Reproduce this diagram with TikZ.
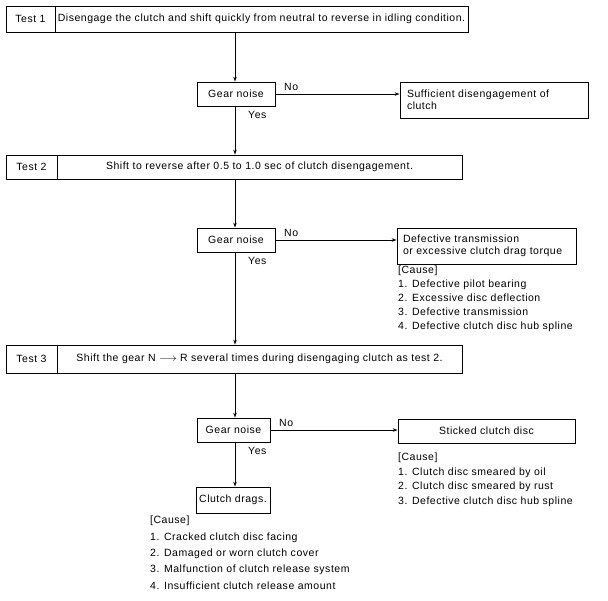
\documentclass[tikz,border=0pt]{standalone}
\usepackage{fontspec}
\setmainfont[LetterSpace=5]{Liberation Sans}
\usetikzlibrary{arrows.meta}
\begin{document}
\begin{tikzpicture}[x=1pt,y=-1pt,
  box/.style={draw, line width=0.8pt, inner sep=0pt, font=\fontsize{10.5}{12}\selectfont},
  lbl/.style={font=\fontsize{10.5}{12}\selectfont, inner sep=0pt},
  conn/.style={line width=0.8pt},
  arr/.style={line width=0.8pt, -{Stealth[length=5pt,width=3.5pt]}},
  causes/.style={align=left, inner sep=0pt, anchor=north west}]
\useasboundingbox (0,0) rectangle (608,600);
% Test 1
\node[box, minimum width=49pt, minimum height=26pt] (t1lab) at (30.5,19) {Test 1};
\node[box, minimum width=413pt, minimum height=26pt] (t1txt) at (261.5,19) {Disengage the clutch and shift quickly from neutral to reverse in idling condition.};
\node[box, minimum width=78pt, minimum height=24pt] (g1) at (236,94) {Gear noise};
\node[box, minimum width=188pt, minimum height=36pt, text width=174pt, align=left] (s1) at (494,100) {Sufficient disengagement of\\clutch};
\node[lbl, anchor=south west] (no1) at (284,91) {No};
\node[lbl, anchor=north west] (yes1) at (248,111) {Yes};
% Test 2
\node[box, minimum width=51pt, minimum height=24pt] (t2lab) at (31.5,167) {Test 2};
\node[box, minimum width=405pt, minimum height=24pt] (t2txt) at (259.5,167) {Shift to reverse after 0.5 to 1.0 sec of clutch disengagement.};
\node[box, minimum width=78pt, minimum height=24pt] (g2) at (236,240) {Gear noise};
\node[box, minimum width=179pt, minimum height=36pt, text width=167pt, align=left] (d2) at (486.5,246) {Defective transmission\\or excessive clutch drag torque};
\node[lbl, anchor=south west] (no2) at (284,237) {No};
\node[lbl, anchor=north west] (yes2) at (248,257) {Yes};
\node[causes, font=\fontsize{10.5}{14}\selectfont] (c2) at (398,266) {[Cause]\\1. Defective pilot bearing\\2. Excessive disc deflection\\3. Defective transmission\\4. Defective clutch disc hub spline};
% Test 3
\node[box, minimum width=51pt, minimum height=28pt] (t3lab) at (31.5,359) {Test 3};
\node[box, minimum width=405pt, minimum height=28pt] (t3txt) at (259.5,359) {Shift the gear N $\longrightarrow$ R several times during disengaging clutch as test 2.};
\node[box, minimum width=73pt, minimum height=24pt] (g3) at (233.5,430) {Gear noise};
\node[box, minimum width=177pt, minimum height=24pt] (st3) at (486.5,431) {Sticked clutch disc};
\node[lbl, anchor=south west] (no3) at (279,427) {No};
\node[lbl, anchor=north west] (yes3) at (248,447) {Yes};
\node[causes, font=\fontsize{10.5}{14.5}\selectfont] (c3) at (398,453) {[Cause]\\1. Clutch disc smeared by oil\\2. Clutch disc smeared by rust\\3. Defective clutch disc hub spline};
\node[box, minimum width=74pt, minimum height=26pt] (cd) at (233,500) {Clutch drags.};
\node[causes, font=\fontsize{10.5}{16.3}\selectfont] (c4) at (150,516) {[Cause]\\1. Cracked clutch disc facing\\2. Damaged or worn clutch cover\\3. Malfunction of clutch release system\\4. Insufficient clutch release amount};
% connectors
\coordinate (vx) at (235,0);
\draw[arr] (t1txt.south -| vx) -- (g1.north -| vx);
\draw[arr] (g1.east) -- (g1.east -| s1.west);
\draw[arr] (g1.south -| vx) -- (t2txt.north -| vx);
\draw[arr] (t2txt.south -| vx) -- (g2.north -| vx);
\draw[arr] (g2.east) -- (g2.east -| d2.west);
\draw[arr] (g2.south -| vx) -- (t3txt.north -| vx);
\draw[arr] (t3txt.south -| vx) -- (g3.north -| vx);
\draw[arr] (g3.east) -- (g3.east -| st3.west);
\draw[arr] (g3.south -| vx) -- (cd.north -| vx);
\end{tikzpicture}
\end{document}
